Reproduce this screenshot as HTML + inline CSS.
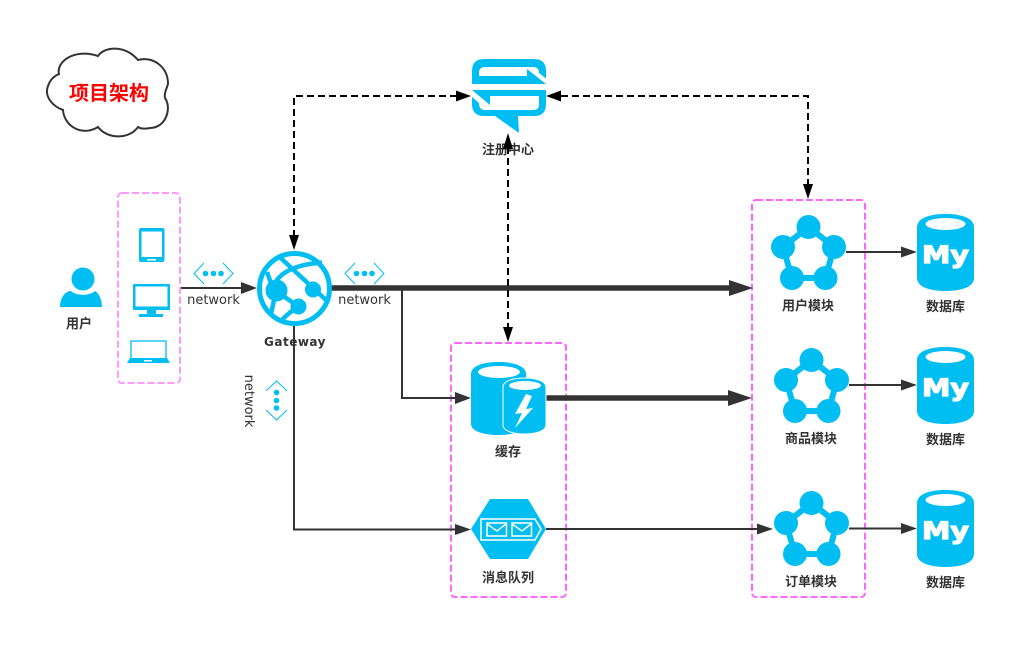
<!DOCTYPE html>
<html><head><meta charset="utf-8"><style>
html,body{margin:0;padding:0;background:#fff;width:1035px;height:658px;overflow:hidden}
svg{display:block}
.l{font:bold 13px "Liberation Sans","Noto Sans CJK SC",sans-serif;fill:#333;text-anchor:middle}
.n{font:13px "DejaVu Sans",sans-serif;fill:#333;text-anchor:middle}
.g{fill:none;stroke:#ff66ff;stroke-width:2;stroke-dasharray:7 3}
.c{fill:#00bef2}
.a{stroke:#333;fill:none}
.d{stroke:#000;stroke-width:2;stroke-dasharray:7 4;fill:none}
.w{fill:#fff}
.s{fill:none;stroke:#00bef2;stroke-width:1}
</style></head><body>
<svg width="1035" height="658" viewBox="0 0 1035 658" xmlns="http://www.w3.org/2000/svg">
<defs>
<g id="db">
<path class="c" d="M0 13C0 4 13 0 28.500 0S57 4 57 13V64C57 73 44 77 28.500 77S0 73 0 64Z"/>
<ellipse class="w" cx="28.500" cy="10" rx="20" ry="6"/>
<text x="28.500" y="49" style="font:bold 24px 'DejaVu Sans',sans-serif;fill:#fff;stroke:#fff;stroke-width:1.200" text-anchor="middle" textLength="47" lengthAdjust="spacingAndGlyphs">My</text>
</g>
<g id="mod">
<path d="M0 -20L25.500 0L17 31H-16.500L-25.500 0Z" fill="none" stroke="#00bef2" stroke-width="6"/>
<circle class="c" cx="0" cy="-20" r="12"/><circle class="c" cx="-25.500" cy="0" r="12"/><circle class="c" cx="25.500" cy="0" r="12"/><circle class="c" cx="-16.500" cy="31" r="12"/><circle class="c" cx="17" cy="31" r="12"/>
</g>
<g id="net">
<path class="s" d="M10 0L0 10.500L10 21M29 0L39 10.500L29 21"/>
<circle class="c" cx="11.500" cy="10.500" r="2.800"/><circle class="c" cx="19.500" cy="10.500" r="2.800"/><circle class="c" cx="27" cy="10.500" r="2.800"/>
</g>
</defs>

<path d="M59 74C56 62 74 48 98 56C104 47 124 44 138 60C152 56 168 66 168 84C166 90 164 94 165 98C172 108 166 128 150 128C145 129 141 129 138 127C130 139 108 140 98 127C82 137 64 126 63 110C52 106 44 96 48 86C50 80 54 76 59 74Z" fill="#fff" stroke="#333" stroke-width="2"/>
<text x="109" y="100" text-anchor="middle" style="font:bold 20px 'Liberation Sans','Noto Sans CJK SC',sans-serif;fill:#f00">项目架构</text>

<rect class="g" x="118" y="193" width="62" height="190" rx="4" style="stroke:#ff99ff"/>
<rect class="g" x="451" y="343" width="115" height="254" rx="4"/>
<rect class="g" x="752" y="200" width="113" height="397" rx="4"/>

<!-- connectors -->
<path class="a" stroke-width="2" d="M181 288H243"/><path d="M241 282L257 288L241 294Z" fill="#333"/>
<path class="a" stroke-width="5.500" d="M331 288H732"/><path d="M729 280L753 288L729 296Z" fill="#333"/>
<path class="a" stroke-width="2" d="M402 288V398H458"/><path d="M455 392L471 398L455 404Z" fill="#333"/>
<path class="a" stroke-width="5.500" d="M546 398H732"/><path d="M728 390L752 398L728 406Z" fill="#333"/>
<path class="a" stroke-width="2" d="M294 326V529.500H458"/><path d="M455 524L471 529.500L455 535Z" fill="#333"/>
<path class="a" stroke-width="2" d="M546 529H760"/><path d="M757 523.500L773 529L757 534.500Z" fill="#333"/>
<path class="a" stroke-width="2" d="M846 252H905"/><path d="M901 246.500L917 252L901 257.500Z" fill="#333"/>
<path class="a" stroke-width="2" d="M849 385H905"/><path d="M901 379.500L917 385L901 390.500Z" fill="#333"/>
<path class="a" stroke-width="2" d="M849 528.500H905"/><path d="M901 523L917 528.500L901 534Z" fill="#333"/>

<!-- user -->
<circle class="c" cx="83" cy="279" r="11.500"/>
<path class="c" d="M60 307C60 298 65 291 71 291C76 296 90 296 95 291C99 293 102 300 102 307Z"/>
<text class="l" x="79" y="328">用户</text>

<!-- devices -->
<rect class="c" x="139" y="228" width="25.500" height="34" rx="2"/><rect class="w" x="141.500" y="231.500" width="20.500" height="25.500"/>
<rect x="147" y="259" width="9" height="1.500" class="w"/>
<rect class="c" x="133" y="284" width="37" height="26" rx="1"/><rect class="w" x="135.500" y="286.500" width="32" height="20"/>
<path class="c" d="M147 309H156V314H163V317H139V314H147Z"/>
<rect x="131" y="341" width="35" height="20" fill="#fff" stroke="#00bef2" stroke-width="1.300"/>
<path class="c" d="M130 358H167L170 363H127Z"/>
<rect x="144" y="360" width="8" height="1.500" class="w"/>

<use href="#net" x="194" y="263"/>
<use href="#net" x="345" y="263"/>
<g transform="translate(287 381) rotate(90)"><use href="#net"/></g>
<text class="n" x="213.500" y="304">network</text>
<text class="n" x="364.500" y="304">network</text>
<text class="n" transform="translate(245 401) rotate(90)" y="0">network</text>

<!-- gateway -->
<circle cx="294.500" cy="288.500" r="35" fill="#fff" stroke="#00bef2" stroke-width="5"/>
<path fill="none" stroke="#00bef2" stroke-width="4.500" d="M272 289C277 275 290 265 322 262.500M278.500 256L326 300M267 272L273 289M276 291L298.500 306.500M276 291L271 314M298.500 307Q289 312 282 320"/>
<circle class="c" cx="276.500" cy="290.500" r="11"/><circle class="c" cx="313" cy="289.500" r="8"/><circle class="c" cx="298.500" cy="306.500" r="8"/>
<text x="295" y="346" text-anchor="middle" style="font:bold 12px 'DejaVu Sans',sans-serif;fill:#333;letter-spacing:.5px">Gateway</text>

<!-- registry -->
<path class="c" d="M472 84V71Q472 59 484 59H534Q546 59 546 71V84Z"/>
<path class="w" d="M479 76V73Q479 67 485 67H533Q539 67 539 73L546 78.500V84H527V76Z"/>
<path class="c" d="M527 69L546 84H527Z"/>
<path class="c" d="M472 90H546V104Q546 116 534 116H518L519 133L495 116H484Q472 116 472 104Z"/>
<path class="w" d="M472 90L490 105V96H539V105Q539 110 533 110H485Q479 110 479 103L472 97Z"/>
<text class="l" x="508" y="154">注册中心</text>

<!-- cache -->
<path class="c" d="M471 374C471 366 483 362 498.500 362S526 366 526 374V424C526 431 514 435 498.500 435S471 431 471 424Z"/>
<ellipse class="w" cx="499" cy="372" rx="21" ry="6"/>
<path class="c" d="M503 387C503 381 513 378 524.500 378S546 381 546 387V425C546 431 536 434 524.500 434S503 431 503 425Z" stroke="#fff" stroke-width="1"/>
<ellipse class="w" cx="525" cy="385.500" rx="16" ry="4.500"/>
<path class="w" d="M526 394L515 414L522 413L515 428L533 408L526 409L532 396Z"/>
<text class="l" x="508" y="456">缓存</text>

<!-- mq -->
<path class="c" d="M490 499H528L546 529L528 559H490L471 529Z"/>
<path fill="none" stroke="#fff" stroke-width="1.500" d="M481 519H535L541 529L535 540H481Z"/>
<rect x="487" y="523" width="19.500" height="13" fill="none" stroke="#fff" stroke-width="1.500"/>
<rect x="512" y="523" width="19.500" height="13" fill="none" stroke="#fff" stroke-width="1.500"/>
<path fill="none" stroke="#fff" stroke-width="1.500" d="M487 524L497 531L506 524M512 524L522 531L531 524"/>
<text class="l" x="508" y="582">消息队列</text>

<!-- modules -->
<use href="#mod" x="808.500" y="247"/><use href="#mod" x="811.500" y="380"/><use href="#mod" x="811.500" y="523"/>
<text class="l" x="808" y="310">用户模块</text>
<text class="l" x="811" y="443">商品模块</text>
<text class="l" x="811" y="586">订单模块</text>

<!-- databases -->
<use href="#db" x="917" y="214"/><use href="#db" x="917" y="347"/><use href="#db" x="917" y="490"/>
<text class="l" x="945.500" y="311">数据库</text>
<text class="l" x="945.500" y="444">数据库</text>
<text class="l" x="945.500" y="587">数据库</text>

<!-- dashed -->
<path class="d" d="M294 237V96H457"/><path d="M289 235H299L294 250Z M456 90.500L471 96L456 101.500Z" fill="#000"/>
<path class="d" d="M808 186V96H560"/><path d="M803 184H813L808 199Z M561 90.500L546 96L561 101.500Z" fill="#000"/>
<path class="d" d="M508 147V329"/><path d="M503 149L508 133L513 149Z M503 327H513L508 342Z" fill="#000"/>
</svg>
</body></html>
